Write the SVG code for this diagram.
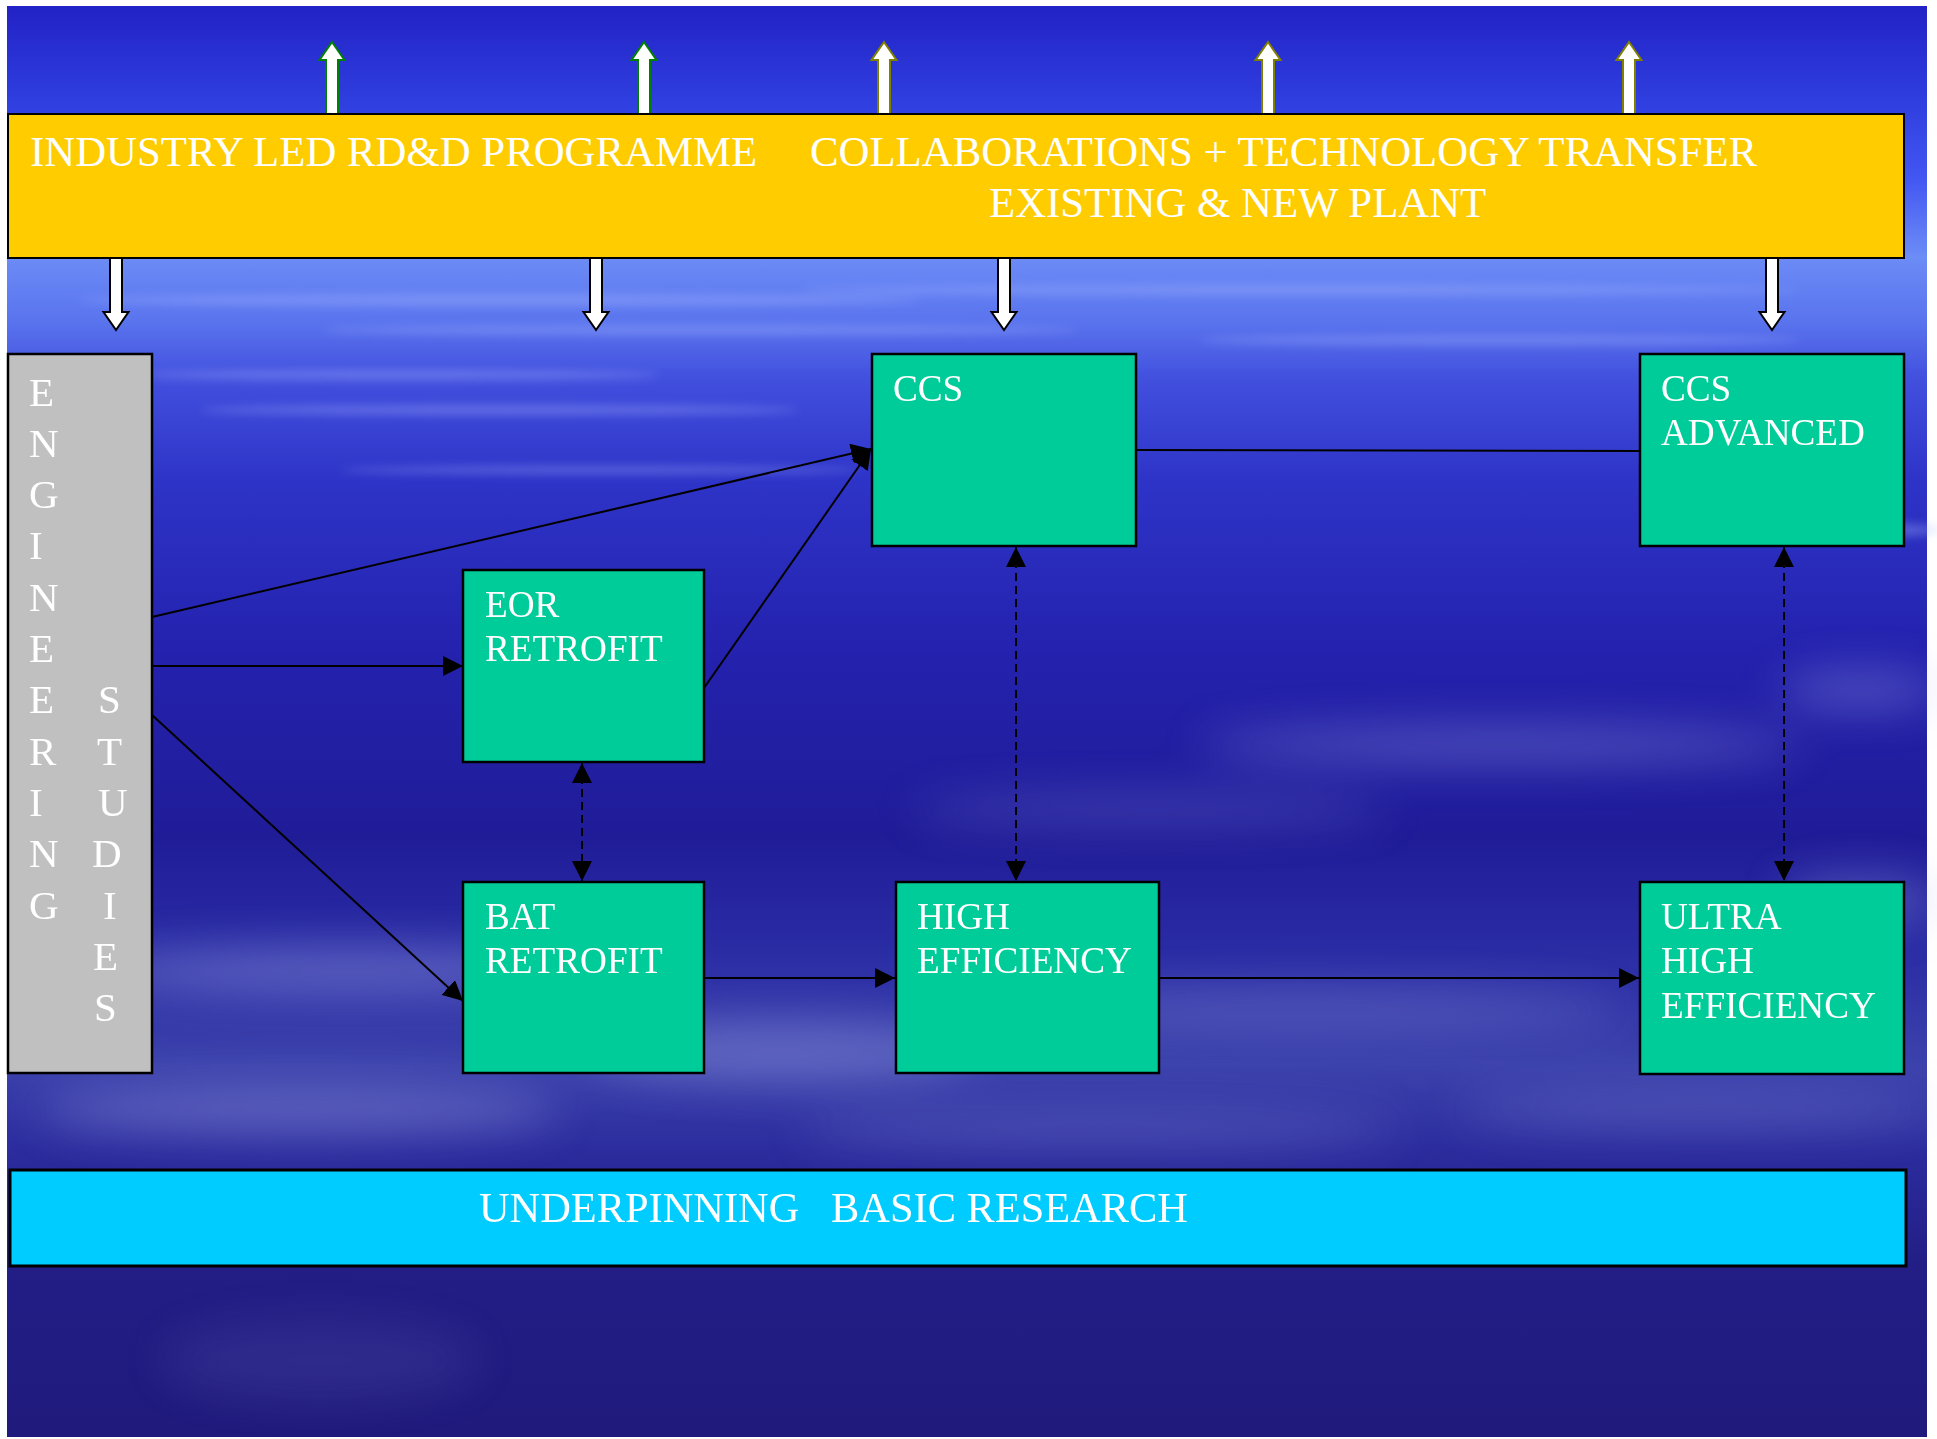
<svg xmlns="http://www.w3.org/2000/svg" width="1937" height="1439" viewBox="0 0 1937 1439">
  <style>
    .lbl { font-family: "Liberation Serif", "Times New Roman", serif; fill: #ffffff; }
    .big { font-size: 42.8px; }
    .base { font-size: 42.4px; }
    .box { font-size: 37.2px; }
    .vert { font-size: 41px; }
    .node { fill: #00CC99; stroke: #000; stroke-width: 2.5; }
    .conn { fill: none; stroke: #000; stroke-width: 2; }
    .dash { stroke-dasharray: 8 5; }
  </style>
  <defs>
    <linearGradient id="sky" x1="0" y1="0" x2="0" y2="1">
      <stop offset="0" stop-color="#2222C6"/>
      <stop offset="0.07" stop-color="#3040E0"/>
      <stop offset="0.12" stop-color="#4256F2"/>
      <stop offset="0.175" stop-color="#6C8CF6"/>
      <stop offset="0.22" stop-color="#5A74EE"/>
      <stop offset="0.26" stop-color="#4250DE"/>
      <stop offset="0.33" stop-color="#2E34C8"/>
      <stop offset="0.45" stop-color="#2422AE"/>
      <stop offset="0.58" stop-color="#201C98"/>
      <stop offset="0.66" stop-color="#2A2CA4"/>
      <stop offset="0.74" stop-color="#3C42AC"/>
      <stop offset="0.8" stop-color="#2C2C9E"/>
      <stop offset="0.88" stop-color="#221E86"/>
      <stop offset="1" stop-color="#201A7C"/>
    </linearGradient>
    <filter id="blur" x="-50%" y="-50%" width="200%" height="200%">
      <feGaussianBlur stdDeviation="22"/>
    </filter>
    <filter id="blur2" x="-50%" y="-50%" width="200%" height="200%">
      <feGaussianBlur stdDeviation="5"/>
    </filter>
    <marker id="ah" markerUnits="userSpaceOnUse" markerWidth="20" markerHeight="20" refX="20" refY="10" orient="auto-start-reverse">
      <path d="M0,0 L20,10 L0,20 Z" fill="#000"/>
    </marker>
    <path id="up" d="M0,42 L12.5,60 L6,60 L6,114 L-6,114 L-6,60 L-12.5,60 Z" fill="#fff" stroke-width="2"/>
    <path id="down" d="M-6,258 L6,258 L6,312 L12.5,312 L0,330 L-12.5,312 L-6,312 Z" fill="#fff" stroke="#000" stroke-width="2"/>
  </defs>

  <g id="background">
    <rect x="7" y="6" width="1920" height="1431" fill="url(#sky)"/>
    <g filter="url(#blur2)" fill="#A8B8FF" opacity="0.35">
      <ellipse cx="500" cy="300" rx="420" ry="6"/>
      <ellipse cx="1300" cy="290" rx="500" ry="5"/>
      <ellipse cx="700" cy="330" rx="380" ry="5"/>
      <ellipse cx="1500" cy="340" rx="300" ry="5"/>
      <ellipse cx="400" cy="375" rx="260" ry="5"/>
      <ellipse cx="500" cy="410" rx="300" ry="5"/>
      <ellipse cx="600" cy="470" rx="260" ry="4"/>
      <ellipse cx="1850" cy="530" rx="90" ry="8"/>
    </g>
    <g filter="url(#blur)" fill="#A8B0EC">
      <ellipse cx="1500" cy="745" rx="300" ry="18" opacity="0.35"/>
      <ellipse cx="1150" cy="810" rx="240" ry="14" opacity="0.25"/>
      <ellipse cx="1860" cy="690" rx="80" ry="18" opacity="0.35"/>
      <ellipse cx="1860" cy="900" rx="80" ry="25" opacity="0.3"/>
      <ellipse cx="350" cy="970" rx="260" ry="22" opacity="0.4"/>
      <ellipse cx="780" cy="1050" rx="200" ry="30" opacity="0.35"/>
      <ellipse cx="1300" cy="1010" rx="320" ry="20" opacity="0.25"/>
      <ellipse cx="300" cy="1110" rx="260" ry="25" opacity="0.35"/>
      <ellipse cx="1100" cy="1130" rx="300" ry="20" opacity="0.22"/>
      <ellipse cx="1700" cy="1110" rx="240" ry="20" opacity="0.22"/>
      <ellipse cx="320" cy="1360" rx="160" ry="40" opacity="0.1"/>
    </g>
  </g>

  <g id="up-arrows">
    <use href="#up" x="332" stroke="#008000"/>
    <use href="#up" x="644" stroke="#008000"/>
    <use href="#up" x="884" stroke="#808000"/>
    <use href="#up" x="1268" stroke="#808000"/>
    <use href="#up" x="1629" stroke="#808000"/>
  </g>

  <g id="programme">
    <rect x="8" y="114" width="1896" height="144" fill="#FFCC00" stroke="#000" stroke-width="2"/>
    <text class="lbl big" x="30" y="166">INDUSTRY LED RD&amp;D PROGRAMME</text>
    <text class="lbl big" x="810" y="166">COLLABORATIONS + TECHNOLOGY TRANSFER</text>
    <text class="lbl big" x="989" y="217">EXISTING &amp; NEW PLANT</text>
  </g>

  <g id="down-arrows">
    <use href="#down" x="116"/>
    <use href="#down" x="596"/>
    <use href="#down" x="1004"/>
    <use href="#down" x="1772"/>
  </g>

  <g id="engineering-studies">
    <rect x="8" y="354" width="144" height="719" fill="#C0C0C0" stroke="#000" stroke-width="2.5"/>
    <g class="lbl vert">
      <text x="29" y="405.5">E</text>
      <text x="29" y="456.8">N</text>
      <text x="29" y="508.1">G</text>
      <text x="29" y="559.4">I</text>
      <text x="29" y="610.7">N</text>
      <text x="29" y="662">E</text>
      <text x="29" y="713.3">E</text>
      <text x="29" y="764.6">R</text>
      <text x="29" y="815.9">I</text>
      <text x="29" y="867.2">N</text>
      <text x="29" y="918.5">G</text>
      <text x="98" y="713.3">S</text>
      <text x="97" y="764.6">T</text>
      <text x="98" y="815.9">U</text>
      <text x="92" y="867.2">D</text>
      <text x="103" y="918.5">I</text>
      <text x="93" y="969.8">E</text>
      <text x="94" y="1021.1">S</text>
    </g>
  </g>

  <g id="connectors">
    <line class="conn" x1="152" y1="617" x2="871" y2="449" marker-end="url(#ah)"/>
    <line class="conn" x1="704" y1="688" x2="871" y2="449" marker-end="url(#ah)"/>
    <line class="conn" x1="152" y1="666" x2="463" y2="666" marker-end="url(#ah)"/>
    <line class="conn" x1="152" y1="715" x2="463" y2="1001" marker-end="url(#ah)"/>
    <line class="conn dash" x1="582" y1="763" x2="582" y2="881" marker-start="url(#ah)" marker-end="url(#ah)"/>
    <line class="conn" x1="704" y1="978" x2="895" y2="978" marker-end="url(#ah)"/>
    <line class="conn dash" x1="1016" y1="547" x2="1016" y2="881" marker-start="url(#ah)" marker-end="url(#ah)"/>
    <line class="conn" x1="1136" y1="450" x2="1640" y2="451"/>
    <line class="conn" x1="1159" y1="978" x2="1639" y2="978" marker-end="url(#ah)"/>
    <line class="conn dash" x1="1784" y1="547" x2="1784" y2="881" marker-start="url(#ah)" marker-end="url(#ah)"/>
  </g>

  <g id="eor-retrofit">
    <rect class="node" x="463" y="570" width="241" height="192"/>
    <text class="lbl box" x="485" y="617">EOR</text>
    <text class="lbl box" x="485" y="661">RETROFIT</text>
  </g>
  <g id="bat-retrofit">
    <rect class="node" x="463" y="882" width="241" height="191"/>
    <text class="lbl box" x="485" y="928.5">BAT</text>
    <text class="lbl box" x="485" y="972.5">RETROFIT</text>
  </g>
  <g id="ccs">
    <rect class="node" x="872" y="354" width="264" height="192"/>
    <text class="lbl box" x="893" y="401">CCS</text>
  </g>
  <g id="high-efficiency">
    <rect class="node" x="896" y="882" width="263" height="191"/>
    <text class="lbl box" x="917" y="928.5">HIGH</text>
    <text class="lbl box" x="917" y="972.5">EFFICIENCY</text>
  </g>
  <g id="ccs-advanced">
    <rect class="node" x="1640" y="354" width="264" height="192"/>
    <text class="lbl box" x="1661" y="401">CCS</text>
    <text class="lbl box" x="1661" y="445">ADVANCED</text>
  </g>
  <g id="ultra-high-efficiency">
    <rect class="node" x="1640" y="882" width="264" height="192"/>
    <text class="lbl box" x="1661" y="929">ULTRA</text>
    <text class="lbl box" x="1661" y="973">HIGH</text>
    <text class="lbl box" x="1661" y="1017.5">EFFICIENCY</text>
  </g>

  <g id="basic-research">
    <rect x="10" y="1170" width="1896" height="96" fill="#00CCFF" stroke="#000" stroke-width="3"/>
    <text class="lbl base" x="479" y="1222" xml:space="preserve">UNDERPINNING   BASIC RESEARCH</text>
  </g>
</svg>
